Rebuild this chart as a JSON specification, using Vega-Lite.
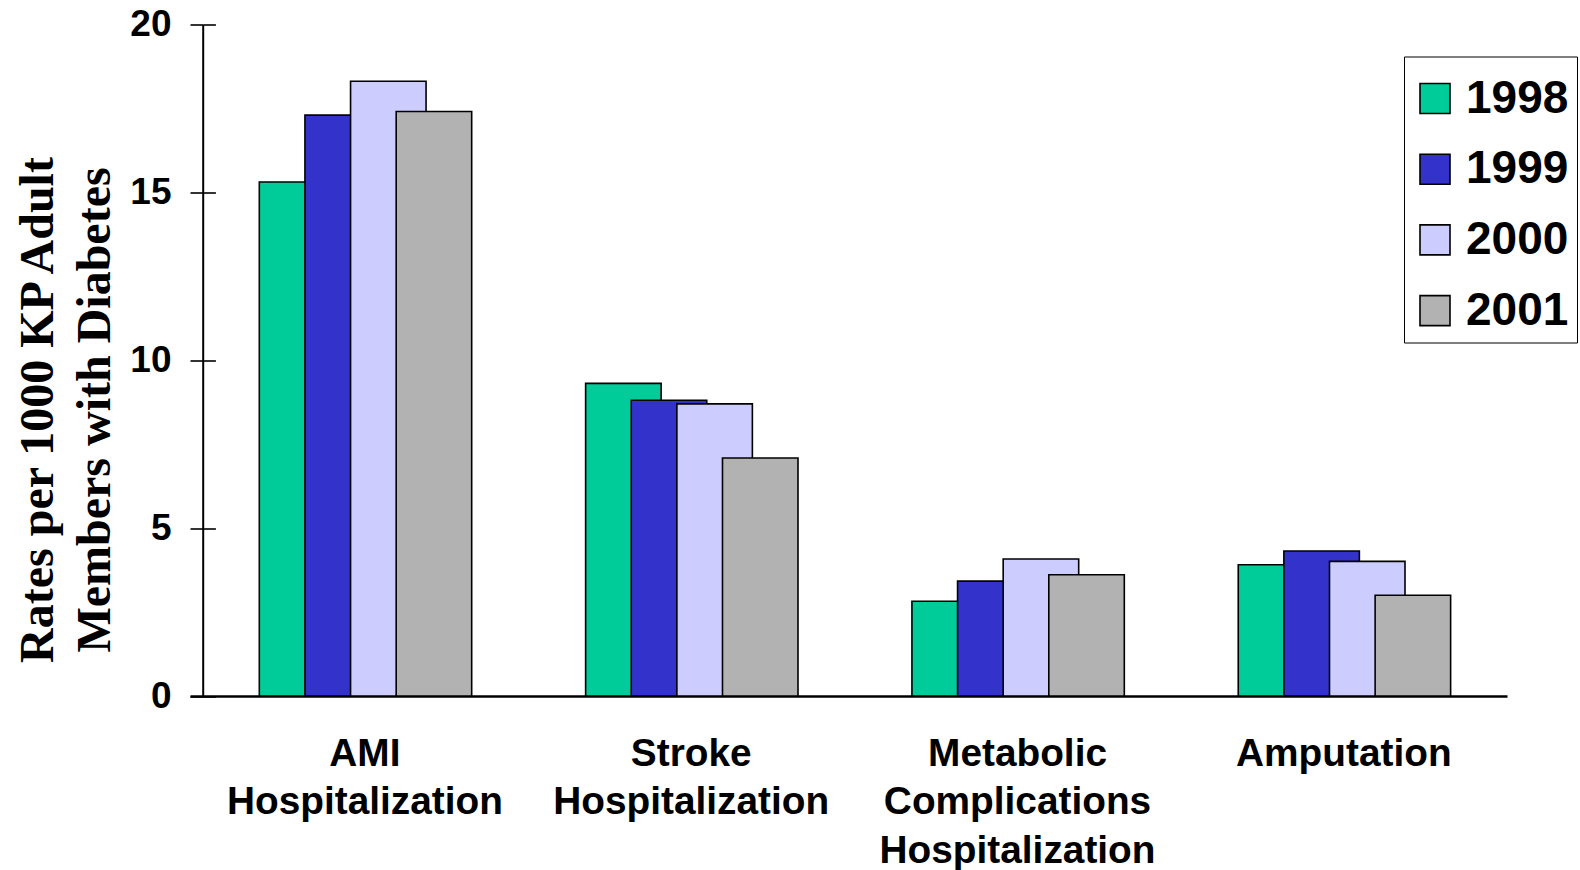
{
  "$schema": "https://vega.github.io/schema/vega-lite/v6.json",
  "autosize": "none",
  "width": 1317,
  "height": 671.5,
  "padding": {"left": 190, "top": 24.5, "right": 73, "bottom": 174},
  "background": "white",
  "config": {
    "view": {"stroke": null},
    "font": "Liberation Sans"
  },
  "data": {
    "values": [
      {"outcome": "AMI Hospitalization", "year": "1998", "rate": 15.31},
      {"outcome": "AMI Hospitalization", "year": "1999", "rate": 17.30},
      {"outcome": "AMI Hospitalization", "year": "2000", "rate": 18.31},
      {"outcome": "AMI Hospitalization", "year": "2001", "rate": 17.41},
      {"outcome": "Stroke Hospitalization", "year": "1998", "rate": 9.31},
      {"outcome": "Stroke Hospitalization", "year": "1999", "rate": 8.81},
      {"outcome": "Stroke Hospitalization", "year": "2000", "rate": 8.70},
      {"outcome": "Stroke Hospitalization", "year": "2001", "rate": 7.09},
      {"outcome": "Metabolic Complications Hospitalization", "year": "1998", "rate": 2.82},
      {"outcome": "Metabolic Complications Hospitalization", "year": "1999", "rate": 3.42},
      {"outcome": "Metabolic Complications Hospitalization", "year": "2000", "rate": 4.08},
      {"outcome": "Metabolic Complications Hospitalization", "year": "2001", "rate": 3.61},
      {"outcome": "Amputation", "year": "1998", "rate": 3.91},
      {"outcome": "Amputation", "year": "1999", "rate": 4.32},
      {"outcome": "Amputation", "year": "2000", "rate": 4.01},
      {"outcome": "Amputation", "year": "2001", "rate": 3.00}
    ]
  },
  "resolve": {"axis": {"y": "independent"}},
  "layer": [
    {
      "mark": {
        "type": "bar",
        "width": 75.5,
        "stroke": "black",
        "strokeWidth": 1.6
      },
      "encoding": {
        "x": {
          "field": "outcome",
          "type": "nominal",
          "sort": null,
          "scale": {"paddingInner": 0, "paddingOuter": 0.018, "align": 1},
          "axis": {
            "title": null,
            "labelAngle": 0,
            "ticks": false,
            "tickSize": 0,
            "labelPadding": 38,
            "labelBaseline": "top",
            "labelFont": "Liberation Sans",
            "labelFontWeight": "bold",
            "labelFontSize": 38.8,
            "labelLineHeight": 48.5,
            "labelLimit": 500,
            "labelColor": "black",
            "labelExpr": "split(datum.label, ' ')",
            "domainColor": "black",
            "domainWidth": 2.5
          }
        },
        "xOffset": {
          "field": "year",
          "type": "nominal",
          "sort": null,
          "scale": {"paddingInner": 0, "paddingOuter": 0, "range": [72.5, 255]}
        },
        "y": {
          "field": "rate",
          "type": "quantitative",
          "scale": {"domain": [0, 20], "nice": false},
          "axis": {
            "values": [0, 5, 10, 15, 20],
            "grid": false,
            "offset": -12.7,
            "domainColor": "black",
            "domainWidth": 2,
            "tickColor": "black",
            "tickWidth": 1.6,
            "tickSize": 12.7,
            "labelPadding": 19,
            "labelFont": "Liberation Sans",
            "labelFontWeight": "bold",
            "labelFontSize": 37,
            "labelColor": "black",
            "title": ["Rates per 1000 KP Adult", "Members with Diabetes"],
            "titleFont": "Liberation Serif",
            "titleFontWeight": "bold",
            "titleFontSize": 48,
            "titleColor": "black",
            "titleLineHeight": 57,
            "titleAngle": 270,
            "titleAlign": "center",
            "titleBaseline": "middle",
            "titleX": -164.4,
            "titleY": 385
          }
        },
        "color": {
          "field": "year",
          "type": "nominal",
          "scale": {
            "domain": ["1998", "1999", "2000", "2001"],
            "range": ["#00CC99", "#3333CC", "#CCCCFF", "#B2B2B2"]
          },
          "legend": {
            "title": " ",
            "titleFontSize": 6,
            "titlePadding": 5,
            "orient": "none",
            "legendX": 1214,
            "legendY": 32,
            "direction": "vertical",
            "symbolType": "square",
            "symbolSize": 900,
            "symbolStrokeColor": "black",
            "symbolStrokeWidth": 1.6,
            "labelFont": "Liberation Sans",
            "labelFontWeight": "bold",
            "labelFontSize": 46,
            "labelColor": "black",
            "labelOffset": 8,
            "rowPadding": 24.7,
            "padding": 8,
            "strokeColor": "black",
            "fillColor": "white"
          }
        }
      }
    },
    {
      "mark": {"type": "rule", "strokeOpacity": 0},
      "encoding": {
        "y": {
          "field": "rate",
          "type": "quantitative",
          "axis": {
            "orient": "right",
            "offset": -1304.3,
            "values": [0, 5, 10, 15, 20],
            "grid": false,
            "domain": false,
            "labels": false,
            "title": null,
            "tickColor": "black",
            "tickWidth": 1.6,
            "tickSize": 12.7
          }
        }
      }
    }
  ]
}
